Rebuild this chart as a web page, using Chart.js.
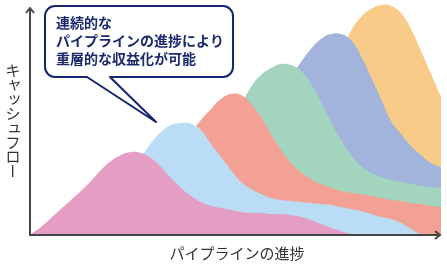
<!DOCTYPE html>
<html><head><meta charset="utf-8">
<script src="https://cdn.jsdelivr.net/npm/chart.js@4/dist/chart.umd.min.js"></script>
<style>html,body{margin:0;padding:0;background:#fff;overflow:hidden}canvas{display:block}</style>
</head><body>
<canvas id="c" width="447" height="265"></canvas>
<script>
// x positions along "pipeline progress"
const progress = [0,10,20,30,40,50,60,70,80,90,100,110,120,130,140,150,160,170,180,190,200,210,220,230,240,250,260,270,280,290,300,310,320,330,340,350,360,370,380,390,400,410];
// cash-flow curves of successive pipeline products
const project1 = [0,7,16,25,34,43,53,64,73,79,82,81,76,67,56,46,38,32,28,26,24,22,21,21,20,20,19,17,14,10,6,3,0,0,0,0,0,0,0,0,0,0];
const project2 = [0,0,0,0,0,0,10,25,42,57,67,77,91,102,109,111,110,104,90,77,64,52,45,40,36,34,33,32,31,30,29,27,25,23,20,17,15,11,5,0,0,0];
const project3 = [0,0,0,0,0,0,0,0,0,0,0,15,35,55,72,88,101,114,125,135,140,139,130,117,100,84,71,62,55,50,46,43,41,40,38,36,34,33,31,30,28,27];
const project4 = [0,0,0,0,0,0,0,0,0,0,0,0,0,0,0,0,18,38,60,82,106,128,147,159,166,170,169,163,150,132,112,94,79,68,61,57,54,52,50,48,47,46];
const project5 = [0,0,0,0,0,0,0,0,0,0,0,0,0,0,0,0,0,0,0,0,0,20,45,70,95,125,155,172,185,195,200,200,194,178,157,135,113,100,88,79,71,67];
const project6 = [0,0,0,0,0,0,0,0,0,0,0,0,0,0,0,0,0,0,0,0,0,0,0,0,0,0,25,55,85,115,148,180,203,217,225,229,228,221,205,183,160,137];
const colors = ['#e49ec4','#badcf4','#f2a194','#a3d4bd','#a2b4dc','#f8cb88'];

const xLabel = 'パイプラインの進捗';
const yLabel = 'キャッシュフロー';
const calloutLines = ['連続的な','パイプラインの進捗により','重層的な収益化が可能'];

const series = [project1,project2,project3,project4,project5,project6];

const decor = {
  id:'decor',
  afterDraw(chart){
    const ctx = chart.ctx;
    const ca = chart.chartArea;
    const ax = ca.left - 1, ay = ca.bottom + 1;
    ctx.save();
    // axes
    ctx.strokeStyle = '#464646';
    ctx.lineWidth = 2;
    ctx.lineCap = 'butt';
    ctx.beginPath();
    ctx.moveTo(ax, ay + 1);
    ctx.lineTo(ax, 8);
    ctx.moveTo(ax - 1, ay);
    ctx.lineTo(440, ay);
    ctx.stroke();
    // arrow heads
    ctx.lineJoin = 'miter';
    ctx.beginPath();
    ctx.moveTo(ax - 4, 13);
    ctx.lineTo(ax, 8);
    ctx.lineTo(ax + 4, 13);
    ctx.moveTo(435, ay - 4);
    ctx.lineTo(440, ay);
    ctx.lineTo(435, ay + 4);
    ctx.stroke();

    // x axis label
    ctx.fillStyle = '#333';
    ctx.font = '15px "Noto Sans CJK JP"';
    ctx.textAlign = 'center';
    ctx.textBaseline = 'middle';
    ctx.fillText(xLabel, 237, 253);

    // y axis label (vertical writing)
    const small = 'ャッュ';
    const cell = 14.4;
    let cy = 63 + cell / 2;
    for (const ch of yLabel) {
      ctx.save();
      if (ch === 'ー') {
        ctx.translate(13, cy);
        ctx.rotate(Math.PI / 2);
        ctx.fillText(ch, 0, 0);
      } else if (small.includes(ch)) {
        ctx.fillText(ch, 14.5, cy - 1.5);
      } else {
        ctx.fillText(ch, 13, cy);
      }
      ctx.restore();
      cy += cell;
    }

    // callout
    const L = 45, T = 6, R = 233, B = 77, r = 10;
    ctx.beginPath();
    ctx.moveTo(L + r, T);
    ctx.lineTo(R - r, T);
    ctx.arcTo(R, T, R, T + r, r);
    ctx.lineTo(R, B - r);
    ctx.arcTo(R, B, R - r, B, r);
    ctx.lineTo(110, B);
    ctx.lineTo(156, 122);
    ctx.lineTo(87, B);
    ctx.lineTo(L + r, B);
    ctx.arcTo(L, B, L, B - r, r);
    ctx.lineTo(L, T + r);
    ctx.arcTo(L, T, L + r, T, r);
    ctx.closePath();
    ctx.fillStyle = '#fff';
    ctx.fill();
    ctx.strokeStyle = '#15246e';
    ctx.lineWidth = 2;
    ctx.lineJoin = 'round';
    ctx.stroke();

    ctx.fillStyle = '#1b2a6e';
    ctx.font = 'bold 14px "Noto Sans CJK JP"';
    ctx.textAlign = 'left';
    ctx.textBaseline = 'middle';
    const ys = [22.5, 40.3, 58.3];
    calloutLines.forEach((t, i) => ctx.fillText(t, 56, ys[i]));
    ctx.restore();
  }
};

new Chart(document.getElementById('c').getContext('2d'), {
  type: 'line',
  data: {
    datasets: series.map((s, i) => ({
      data: progress.map((x, j) => ({ x: x, y: s[j] })),
      backgroundColor: colors[i],
      borderColor: 'rgba(0,0,0,0)',
      borderWidth: 0,
      pointRadius: 0,
      fill: 'origin',
      tension: 0.45
    }))
  },
  options: {
    responsive: false,
    animation: false,
    events: [],
    layout: { padding: { left: 31, right: 6, top: 4, bottom: 31 } },
    scales: {
      x: { type: 'linear', min: 0, max: 410, display: false },
      y: { min: 0, max: 230, display: false }
    },
    plugins: { legend: { display: false }, tooltip: { enabled: false } }
  },
  plugins: [decor]
});
</script>
</body></html>
